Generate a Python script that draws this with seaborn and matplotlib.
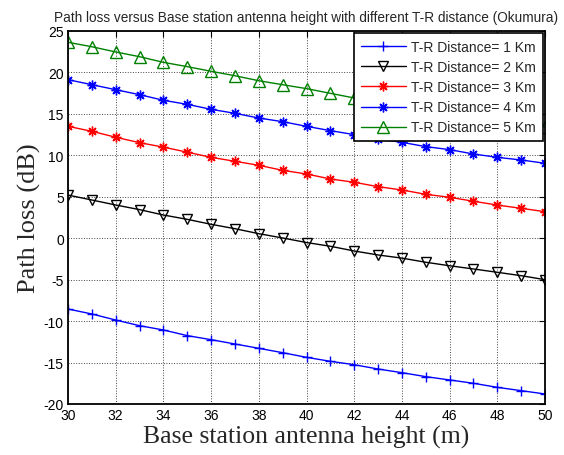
import matplotlib
matplotlib.use("Agg")
import matplotlib.pyplot as plt
import seaborn as sns
import pandas as pd

# Base station antenna height (m)
heights = list(range(30, 51))

# Path loss (dB) for each T-R distance
loss_1km = [-8.54, -9.14, -9.87, -10.55, -11.07, -11.75, -12.24, -12.76, -13.28, -13.81, -14.37,
            -14.85, -15.26, -15.78, -16.22, -16.70, -17.10, -17.50, -17.99, -18.39, -18.79]
loss_2km = [5.21, 4.61, 4.01, 3.45, 2.80, 2.28, 1.68, 1.15, 0.55, 0.03, -0.52,
            -0.97, -1.54, -2.02, -2.40, -2.90, -3.32, -3.71, -4.11, -4.52, -5.00]
loss_3km = [13.50, 12.90, 12.18, 11.53, 10.99, 10.38, 9.76, 9.28, 8.80, 8.19, 7.75,
            7.15, 6.75, 6.22, 5.82, 5.30, 4.94, 4.46, 4.00, 3.61, 3.20]
loss_4km = [19.13, 18.52, 17.92, 17.32, 16.64, 16.15, 15.55, 15.07, 14.50, 14.06, 13.50,
            12.98, 12.50, 11.97, 11.57, 11.05, 10.69, 10.16, 9.76, 9.44, 9.04]
loss_5km = [23.64, 23.10, 22.47, 21.90, 21.22, 20.70, 20.14, 19.60, 19.00, 18.52, 18.05,
            17.48, 16.92, 16.45, 16.00, 15.55, 15.10, 14.70, 14.30, 13.88, 13.46]

labels = ["T-R Distance= 1 Km", "T-R Distance= 2 Km", "T-R Distance= 3 Km",
          "T-R Distance= 4 Km", "T-R Distance= 5 Km"]
series = [loss_1km, loss_2km, loss_3km, loss_4km, loss_5km]

x_ticks = list(range(30, 51, 2))
y_ticks = list(range(-20, 26, 5))

title = "Path loss versus Base station antenna height with different T-R distance (Okumura)"
x_label = "Base station antenna height (m)"
y_label = "Path loss (dB)"

df = pd.DataFrame({
    "height": heights * len(series),
    "loss": [v for s in series for v in s],
    "distance": [lab for lab, s in zip(labels, series) for _ in s],
})

sns.set_style("white")
plt.rcParams["font.family"] = ["Liberation Sans", "DejaVu Sans"]
plt.rcParams["axes.unicode_minus"] = False

styles = {
    labels[0]: dict(color="#0000ff", marker="+", markersize=7, mfc="none"),
    labels[1]: dict(color="#000000", marker="v", markersize=7, mfc="none"),
    labels[2]: dict(color="#ff0000", marker=(8, 2, 0), markersize=7),
    labels[3]: dict(color="#0000ff", marker=(8, 2, 0), markersize=7),
    labels[4]: dict(color="#008000", marker="^", markersize=8, mfc="none"),
}

fig = plt.figure(figsize=(5.64, 4.56), dpi=100)
ax = fig.add_axes([68 / 564, 1 - 405 / 456, (545 - 68) / 564, (405 - 32) / 456])

for lab in labels:
    st = styles[lab]
    sub = df[df["distance"] == lab]
    sns.lineplot(data=sub, x="height", y="loss", ax=ax, label=lab,
                 color=st["color"], marker=st["marker"], markersize=st["markersize"],
                 markerfacecolor=st.get("mfc", st["color"]),
                 markeredgecolor=st["color"], markeredgewidth=1.0,
                 linewidth=1.0, sort=False)

ax.set_xlim(30, 50)
ax.set_ylim(-20, 25)
ax.set_xticks(x_ticks)
ax.set_yticks(y_ticks)
ax.tick_params(direction="in", length=4, width=0.8, top=True, right=True,
               labelsize=10, pad=3, colors="black")
ax.grid(True, color="#444444", linestyle=":", linewidth=0.7)
for sp in ax.spines.values():
    sp.set_visible(True)
    sp.set_color("black")
    sp.set_linewidth(1.3)

ax.set_xlabel(x_label, family="Liberation Serif", fontsize=18.5, labelpad=2)
ax.set_ylabel(y_label, family="Liberation Serif", fontsize=19, labelpad=2)
ax.set_title(title, fontsize=9.85, pad=7)

leg = ax.legend(loc="upper right", frameon=True, fancybox=False, framealpha=1,
                edgecolor="black", borderaxespad=0.15, handlelength=3.2,
                handletextpad=0.4, labelspacing=0.44, borderpad=0.5, fontsize=10)
leg.get_frame().set_linewidth(1.2)

fig.savefig("out.png", dpi=100, facecolor="white")
